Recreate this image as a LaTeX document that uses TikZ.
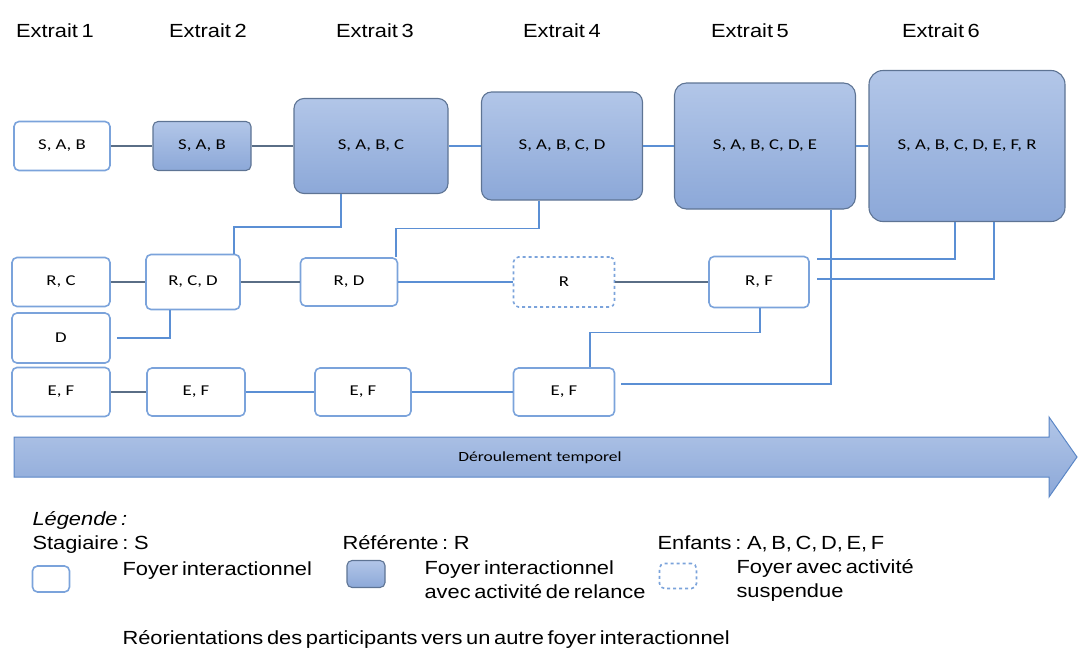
\documentclass[tikz,border=0pt]{standalone}
\usepackage{fontspec}
\setmainfont[FakeStretch=1.15,WordSpace=0.6]{Liberation Sans}
\newfontfamily\boxfont[FakeStretch=1.25]{Carlito}
\usetikzlibrary{positioning}

\definecolor{foyerline}{HTML}{7BA3DB}
\definecolor{reltop}{HTML}{B2C6E8}
\definecolor{relbot}{HTML}{8CA8D8}
\definecolor{relline}{HTML}{5E7494}
\definecolor{linkblue}{HTML}{5B8FD4}
\definecolor{linkgray}{HTML}{5A6E86}
\definecolor{arrowline}{HTML}{5A86C6}

\tikzset{
  foyer/.style={draw=foyerline, line width=1.6pt, fill=white, rounded corners=5pt,
    inner sep=0pt, font=\boxfont\fontsize{15}{18}\selectfont},
  relance/.style={foyer, draw=relline, line width=1.1pt, top color=reltop, bottom color=relbot},
  suspendu/.style={foyer, dashed},
  lien/.style={linkgray, line width=1.4pt},
  reorient/.style={linkblue, line width=1.4pt},
}

\begin{document}
\begin{tikzpicture}[x=1pt, y=-1pt, every node/.style={font=\fontsize{19}{24}\selectfont}]
	\useasboundingbox (0,0) rectangle (1078,653);

	\foreach \x/\n in {55/1,208/2,375/3,562/4,750/5,941/6}{
	  \node[anchor=base] (t\n) at (\x,37) {Extrait \n};
	}

	% foyers de la premiere ligne
	\node[foyer, minimum width=96pt, minimum height=49pt] (f1) at (62,146) {S, A, B};
	\node[relance, minimum width=98pt, minimum height=49pt] (f2) at (202,146) {S, A, B};
	\node[relance, rounded corners=10pt, minimum width=154pt, minimum height=95pt] (f3) at (371,146) {S, A, B, C};
	\node[relance, rounded corners=10pt, minimum width=161pt, minimum height=108pt] (f4) at (562,146) {S, A, B, C, D};
	\node[relance, rounded corners=12pt, minimum width=181pt, minimum height=126pt] (f5) at (765,146) {S, A, B, C, D, E};
	\node[relance, rounded corners=14pt, minimum width=196pt, minimum height=151pt] (f6) at (967,146) {S, A, B, C, D, E, F, R};

	% deuxieme et troisieme lignes
	\node[foyer, minimum width=98pt, minimum height=49pt] (rc) at (61,282) {R, C};
	\node[foyer, minimum width=94pt, minimum height=55pt] (rcd) at (193,282) {R, C, D};
	\node[foyer, minimum width=97pt, minimum height=48pt] (rd) at (349,282) {R, D};
	\node[suspendu, minimum width=101pt, minimum height=50pt] (r) at (564,282) {R};
	\node[foyer, minimum width=100pt, minimum height=51pt] (rf) at (759,282) {R, F};
	\node[foyer, minimum width=98pt, minimum height=50pt] (d) at (61,338) {D};

	\node[foyer, minimum width=98pt, minimum height=49pt] (ef1) at (61,392) {E, F};
	\node[foyer, minimum width=98pt, minimum height=48pt] (ef2) at (196,392) {E, F};
	\node[foyer, minimum width=96pt, minimum height=48pt] (ef3) at (363,392) {E, F};
	\node[foyer, minimum width=101pt, minimum height=48pt] (ef4) at (564,392) {E, F};

	\draw[lien] (f1) -- (f2);
	\draw[lien] (f2) -- (f3);
	\draw[reorient] (f3) -- (f4);
	\draw[reorient] (f4) -- (f5);
	\draw[reorient] (f5) -- (f6);
	\draw[lien] (rc) -- (rcd);
	\draw[lien] (rcd) -- (rd);
	\draw[reorient] (rd) -- (r);
	\draw[lien] (r) -- (rf);
	\draw[lien] (ef1) -- (ef2);
	\draw[reorient] (ef2) -- (ef3);
	\draw[reorient] (ef3) -- (ef4);

	% reorientations
	\draw[reorient] ([xshift=-30pt]f3.south) -- ++(0,33) -| ([xshift=41pt]rcd.north);
	\draw[reorient] ([xshift=-23pt]f4.south) -- ++(0,28) -| ([xshift=47pt]rd.north);
	\draw[reorient] ([xshift=6pt]d.east) -| ([xshift=-23pt]rcd.south);
	\draw[reorient] ([xshift=1pt]rf.south) -- ++(0,24) -| ([xshift=26pt]ef4.north);
	\draw[reorient] ([xshift=66pt]f5.south) |- ([shift={(6pt,8pt)}]ef4.east);
	\draw[reorient] ([xshift=-12pt]f6.south) |- ([shift={(7pt,23pt)}]rf.east);
	\draw[reorient] ([xshift=27pt]f6.south) |- ([shift={(7pt,3pt)}]rf.east);

	% fleche du temps
	\draw[arrowline, line width=1pt, top color=reltop, bottom color=relbot]
	  (14,437) -- (1049,437) -- (1049,417) -- (1077,457) -- (1049,497) -- (1049,477) -- (14,477) -- cycle;
	\node[font=\boxfont\fontsize{14}{16}\selectfont] (temps) at (540,458) {Déroulement temporel};

	% legende
	\node[anchor=base west, font=\fontsize{19}{24}\selectfont\itshape] (leg) at (29,525) {Légende :};
	\node[anchor=base west] (stag) at (29,549) {Stagiaire : S};
	\node[anchor=base west] (refe) at (339,549) {Référente : R};
	\node[anchor=base west] (enf) at (654,549) {Enfants : A, B, C, D, E, F};
	\node[foyer, minimum width=37pt, minimum height=26pt] (lf) at (51,579) {};
	\node[relance, minimum width=38pt, minimum height=27pt] (lr) at (366,574) {};
	\node[suspendu, minimum width=37pt, minimum height=25pt] (ls) at (678,576) {};
	\node[anchor=base west] (lft) at (119,575) {Foyer interactionnel};
	\node[anchor=west, align=left] (lrt) at (421,580) {Foyer interactionnel\\avec activité de relance};
	\node[anchor=west, align=left] (lst) at (733,580) {Foyer avec activité\\suspendue};
	\node[anchor=base west] (reo) at (119,644) {Réorientations des participants vers un autre foyer interactionnel};
\end{tikzpicture}
\end{document}
